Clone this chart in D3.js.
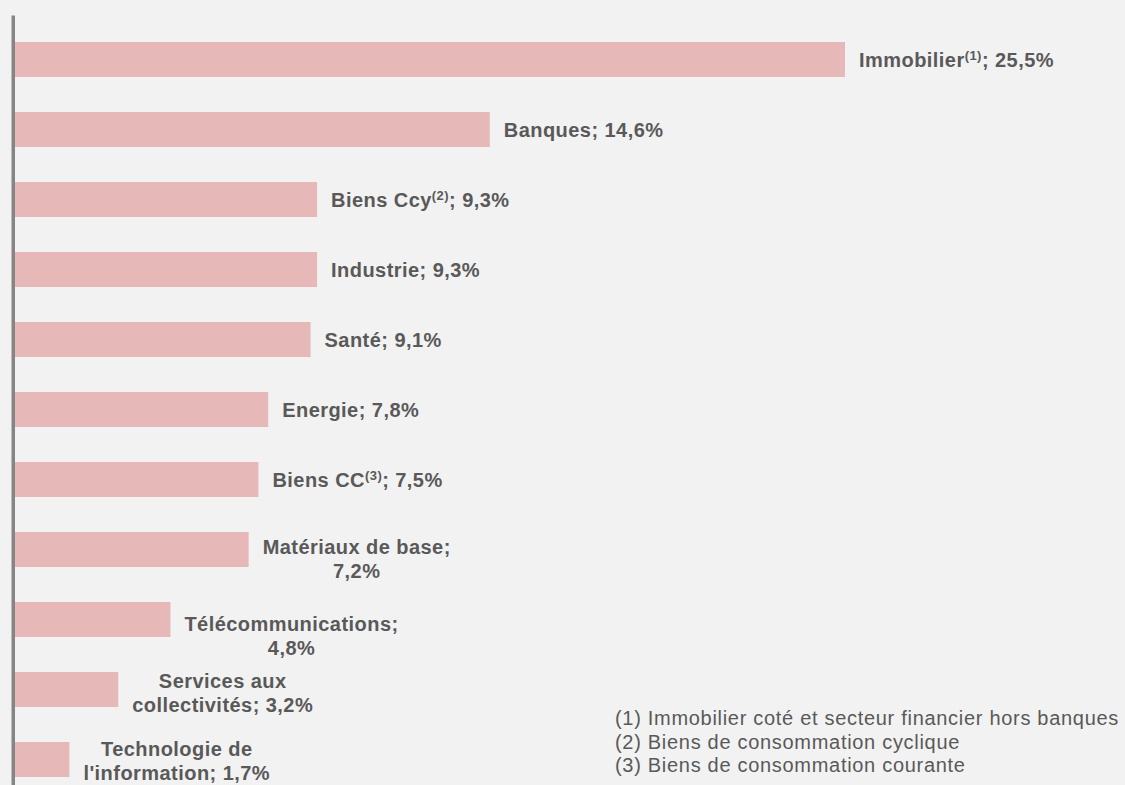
<!DOCTYPE html>
<html>
<head>
<meta charset="utf-8">
<script src="https://cdn.jsdelivr.net/npm/d3@7"></script>
<style>
  html, body { margin: 0; padding: 0; background: #f2f2f2; }
  svg { display: block; font-family: "Liberation Sans", Arial, sans-serif; }
</style>
</head>
<body>
<div id="chart"></div>
<script>
// sector weights, top to bottom
const categories = [
  "Immobilier", "Banques", "Biens Ccy", "Industrie", "Santé", "Energie",
  "Biens CC", "Matériaux de base", "Télécommunications",
  "Services aux\ncollectivités", "Technologie de\nl'information"
];
const values = [25.5, 14.6, 9.3, 9.3, 9.1, 7.8, 7.5, 7.2, 4.8, 3.2, 1.7];
const notes = ["1", "", "2", "", "", "", "3", "", "", "", ""];
// labels where the value wraps onto its own line
const valueOnNewLine = [false, false, false, false, false, false, false, true, true, false, false];
const footnotes = [
  "(1) Immobilier coté et secteur financier hors banques",
  "(2) Biens de consommation cyclique",
  "(3) Biens de consommation courante"
];

// layout
const width = 1125, height = 785;
const fontSize = 20, lineH = 24;
const labelNudge = [0, 0, 0, 0, 0, 0, 0, 9, 16, 3, 1]; // excel label placement quirks
const textColor = "#595959";

const svg = d3.select("#chart").append("svg")
  .attr("width", width)
  .attr("height", height);

svg.append("rect").attr("width", width).attr("height", height).attr("fill", "#f2f2f2");

const x = d3.scaleLinear()
  .domain([0, d3.max(values)])
  .range([14, 845]);

const y = d3.scaleBand()
  .domain(categories)
  .range([15, 804])
  .paddingInner(0.5)
  .paddingOuter(27 / 70);

const fmt = v => d3.format(".1f")(v).replace(".", ",") + "%";

svg.selectAll(".bar")
  .data(categories)
  .enter()
  .append("rect")
  .attr("class", "bar")
  .attr("x", x(0))
  .attr("y", d => y(d))
  .attr("width", (d, i) => x(values[i]) - x(0))
  .attr("height", y.bandwidth())
  .attr("fill", "#e6b9b8");

// vertical axis line only
const axis = svg.append("g")
  .attr("transform", "translate(12.75,0)")
  .call(d3.axisLeft(y).tickSize(0).tickSizeOuter(0).tickFormat(""));
axis.select(".domain").attr("stroke", "#858585").attr("stroke-width", 3.5);
axis.selectAll(".tick").remove();

// data labels
categories.forEach((cat, i) => {
  const nameLines = cat.split("\n");
  const lines = nameLines.map(t => [{ text: t }]);
  const last = lines[lines.length - 1];
  if (notes[i]) last.push({ text: "(" + notes[i] + ")", sup: true });
  if (valueOnNewLine[i]) {
    last.push({ text: ";" });
    lines.push([{ text: fmt(values[i]) }]);
  } else {
    last.push({ text: "; " + fmt(values[i]) });
  }

  const g = svg.append("g").attr("class", "label");
  const cy = y(cat) + y.bandwidth() / 2 + labelNudge[i];
  const n = lines.length;

  const texts = lines.map((segs, k) => {
    const t = g.append("text")
      .attr("y", cy + (k - (n - 1) / 2) * lineH + fontSize * 0.35)
      .attr("fill", textColor)
      .attr("font-size", fontSize)
      .attr("font-weight", "bold")
      .attr("letter-spacing", "0.45px")
      .attr("xml:space", "preserve");
    segs.forEach((s, j) => {
      if (s.sup) {
        t.append("tspan").attr("font-size", 13).attr("dy", -7).text(s.text);
      } else {
        const ts = t.append("tspan").text(s.text);
        if (j > 0 && segs[j - 1].sup) ts.attr("dy", 7);
      }
    });
    return t;
  });

  const widths = texts.map(t => t.node().getComputedTextLength());
  const maxW = d3.max(widths);
  const cx = x(values[i]) + 14 + maxW / 2;
  texts.forEach(t => t.attr("x", cx).attr("text-anchor", "middle"));
});

// footnotes
svg.append("g")
  .selectAll("text")
  .data(footnotes)
  .enter()
  .append("text")
  .attr("x", 615)
  .attr("y", (d, i) => 725 + i * 23.7)
  .attr("fill", textColor)
  .attr("font-size", 20)
  .attr("letter-spacing", "0.7px")
  .text(d => d);
</script>
</body>
</html>
